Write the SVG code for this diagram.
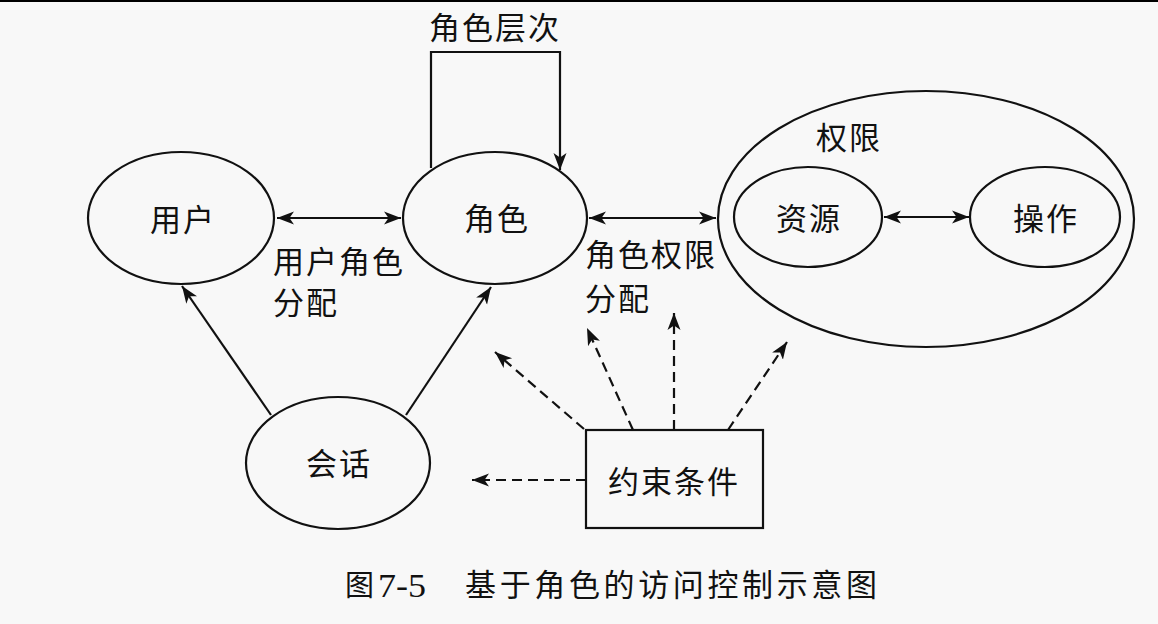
<svg xmlns="http://www.w3.org/2000/svg" width="1158" height="624" viewBox="0 0 1158 624">
  <defs>
    <marker id="ah" markerUnits="userSpaceOnUse" markerWidth="19" markerHeight="15" refX="17" refY="7" orient="auto-start-reverse" viewBox="0 0 19 15">
      <path d="M0,0.5 L17,7 L0,13.5 L4.5,7 Z" fill="#111"/>
    </marker>
    <style>
      .shape { fill: none; stroke: #111; stroke-width: 2.2; }
      .line { fill: none; stroke: #111; stroke-width: 2.2; }
      .dash { fill: none; stroke: #111; stroke-width: 2.2; stroke-dasharray: 10 6; }
      .t { font-family: "Noto Sans CJK SC", "Noto Sans", sans-serif; font-size: 31px; fill: #111; letter-spacing: 2px; }
      .c { text-anchor: middle; }
      .cap { font-family: "Liberation Serif", "Noto Sans CJK SC", serif; fill: #111; }
    </style>
  </defs>
  <rect x="0" y="0" width="1158" height="624" fill="#f8f8f8"/>
  <line x1="0" y1="1" x2="1158" y2="1" stroke="#000" stroke-width="2"/>

  <g id="connectors">
    <line class="line" x1="277" y1="218" x2="401" y2="218" marker-start="url(#ah)" marker-end="url(#ah)"/>
    <line class="line" x1="589" y1="218" x2="716" y2="218" marker-start="url(#ah)" marker-end="url(#ah)"/>
    <line class="line" x1="884" y1="217" x2="969" y2="217" marker-start="url(#ah)" marker-end="url(#ah)"/>
    <path class="line" d="M431,168 V52 H560 V170" marker-end="url(#ah)"/>
    <line class="line" x1="271" y1="415" x2="182" y2="286" marker-end="url(#ah)"/>
    <line class="line" x1="406" y1="415" x2="491" y2="287" marker-end="url(#ah)"/>
    <line class="dash" x1="584" y1="429" x2="495" y2="352" marker-end="url(#ah)"/>
    <line class="dash" x1="633" y1="430" x2="587" y2="328" marker-end="url(#ah)"/>
    <line class="dash" x1="674" y1="430" x2="674" y2="313" marker-end="url(#ah)"/>
    <line class="dash" x1="728" y1="430" x2="787" y2="342" marker-end="url(#ah)"/>
    <line class="dash" x1="586" y1="480" x2="472" y2="480" marker-end="url(#ah)"/>
  </g>

  <g id="user">
    <ellipse class="shape" cx="181" cy="218" rx="93" ry="66"/>
    <text class="t c" x="183" y="231">用户</text>
  </g>
  <g id="role">
    <ellipse class="shape" cx="495" cy="218" rx="92" ry="66"/>
    <text class="t c" x="497" y="230">角色</text>
  </g>
  <g id="role-hierarchy-label">
    <text class="t c" x="495" y="39">角色层次</text>
  </g>
  <g id="user-role-label">
    <text class="t" x="273" y="273">用户角色</text>
    <text class="t" x="273" y="314">分配</text>
  </g>
  <g id="role-perm-label">
    <text class="t" x="585" y="266">角色权限</text>
    <text class="t" x="585" y="310">分配</text>
  </g>
  <g id="permission">
    <ellipse class="shape" cx="926" cy="219" rx="208" ry="128"/>
    <text class="t c" x="849" y="149">权限</text>
  </g>
  <g id="resource">
    <ellipse class="shape" cx="808" cy="217" rx="74" ry="50"/>
    <text class="t c" x="809" y="230">资源</text>
  </g>
  <g id="operation">
    <ellipse class="shape" cx="1045" cy="217" rx="75" ry="50"/>
    <text class="t c" x="1046" y="230">操作</text>
  </g>
  <g id="session">
    <ellipse class="shape" cx="338" cy="463" rx="92" ry="66"/>
    <text class="t c" x="339" y="475">会话</text>
  </g>
  <g id="constraint">
    <rect class="shape" x="586" y="430" width="177" height="98"/>
    <text class="t c" x="674" y="493">约束条件</text>
  </g>
  <g id="caption">
    <text class="cap" x="345" y="596" font-size="29">图</text>
    <text class="cap" x="378" y="597" font-size="33" textLength="48" lengthAdjust="spacingAndGlyphs">7-5</text>
    <text class="cap" x="465" y="596" font-size="31" textLength="412" lengthAdjust="spacing">基于角色的访问控制示意图</text>
  </g>
</svg>
